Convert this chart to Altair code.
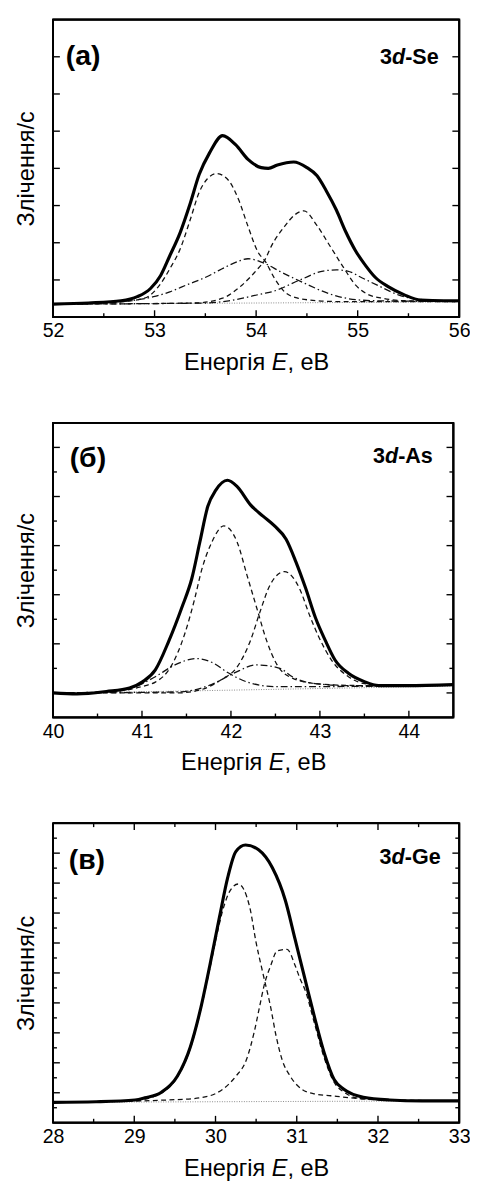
import altair as alt
import pandas as pd

FONT = "Liberation Sans"

# ---------------- Panel (а): 3d-Se ----------------
se_total_E = [52.00, 52.35, 52.67, 52.83, 52.96, 53.06, 53.15, 53.25, 53.35, 53.44, 53.54, 53.67,
              53.80, 53.92, 54.05, 54.12, 54.21, 54.37, 54.50, 54.60, 54.69, 54.79, 54.88, 54.98,
              55.08, 55.17, 55.30, 55.46, 55.62, 55.85, 56.00]
se_total_v = [0.35, 0.38, 0.44, 0.55, 0.77, 1.12, 1.65, 2.26, 3.05, 3.84, 4.41, 4.88,
              4.63, 4.24, 4.02, 4.00, 4.09, 4.17, 4.02, 3.80, 3.40, 2.88, 2.31, 1.78,
              1.38, 1.08, 0.82, 0.60, 0.46, 0.44, 0.44]
se_d1_E = [52.00, 52.60, 52.90, 53.06, 53.15, 53.25, 53.35, 53.44, 53.52, 53.61, 53.73, 53.83,
           53.92, 54.02, 54.09, 54.18, 54.28, 54.41, 54.53, 54.80, 56.00]
se_d1_v = [0.35, 0.40, 0.51, 0.90, 1.30, 1.82, 2.61, 3.36, 3.72, 3.86, 3.67, 3.14,
           2.44, 1.74, 1.50, 1.05, 0.68, 0.51, 0.46, 0.42, 0.42]
se_d2_E = [52.00, 53.40, 53.67, 53.86, 54.00, 54.09, 54.15, 54.28, 54.38, 54.47, 54.60, 54.73,
           54.85, 54.98, 55.11, 55.24, 55.50, 56.00]
se_d2_v = [0.35, 0.38, 0.51, 0.86, 1.25, 1.56, 1.91, 2.44, 2.75, 2.86, 2.46, 1.90,
           1.38, 0.86, 0.60, 0.51, 0.44, 0.43]
se_dd1_E = [52.00, 52.40, 52.73, 52.99, 53.15, 53.31, 53.54, 53.63, 53.78, 53.92, 54.08, 54.24,
            54.47, 54.73, 54.98, 55.20, 56.00]
se_dd1_v = [0.35, 0.38, 0.43, 0.55, 0.68, 0.86, 1.12, 1.25, 1.45, 1.57, 1.45, 1.22,
            0.92, 0.62, 0.47, 0.44, 0.42]
se_dd2_E = [52.00, 53.50, 53.73, 54.08, 54.15, 54.44, 54.66, 54.79, 54.90, 55.04, 55.20, 55.40,
            55.60, 56.00]
se_dd2_v = [0.35, 0.38, 0.44, 0.64, 0.68, 1.01, 1.24, 1.27, 1.24, 1.06, 0.85, 0.60,
            0.48, 0.43]
se_bg_E = [52.0, 56.0]
se_bg_v = [0.35, 0.41]
se_xlabels = [52, 53, 54, 55, 56]
se_xmajor = [53, 54, 55]
se_xminor = [52.5, 53.5, 54.5, 55.5]
se_ymajor = [1, 2, 3, 4, 5, 6, 7]
se_yminor = []

# ---------------- Panel (б): 3d-As ----------------
as_total_E = [40.00, 40.27, 40.60, 40.86, 41.01, 41.15, 41.30, 41.45, 41.56, 41.65, 41.74, 41.83,
              41.96, 42.07, 42.22, 42.36, 42.49, 42.62, 42.73, 42.84, 42.95, 43.06, 43.17, 43.32,
              43.50, 43.66, 43.98, 44.50]
as_total_v = [0.50, 0.48, 0.53, 0.60, 0.73, 0.97, 1.55, 2.25, 2.83, 3.57, 4.30, 4.63,
              4.83, 4.70, 4.33, 4.10, 3.90, 3.63, 3.17, 2.63, 2.03, 1.57, 1.17, 0.90,
              0.73, 0.65, 0.65, 0.67]
as_d1_E = [40.00, 40.60, 41.04, 41.15, 41.33, 41.48, 41.59, 41.67, 41.78, 41.92, 42.07, 42.18,
           42.29, 42.40, 42.51, 42.69, 42.95, 43.48, 44.50]
as_d1_v = [0.50, 0.52, 0.65, 0.72, 1.05, 1.70, 2.40, 3.00, 3.55, 3.90, 3.57, 2.90,
           2.23, 1.57, 1.10, 0.80, 0.69, 0.65, 0.66]
as_d2_E = [40.00, 41.40, 41.67, 41.89, 42.07, 42.22, 42.33, 42.44, 42.60, 42.77, 42.88, 42.99,
           43.13, 43.32, 43.50, 43.80, 44.50]
as_d2_v = [0.50, 0.50, 0.57, 0.77, 1.03, 1.57, 2.17, 2.70, 2.97, 2.63, 2.10, 1.63,
           1.17, 0.83, 0.69, 0.65, 0.66]
as_dd1_E = [40.00, 40.70, 40.93, 41.15, 41.37, 41.61, 41.81, 41.95, 42.22, 42.50, 43.00, 44.50]
as_dd1_v = [0.50, 0.53, 0.63, 0.83, 1.07, 1.20, 1.10, 0.93, 0.70, 0.63, 0.63, 0.66]
as_dd2_E = [40.00, 41.40, 41.78, 42.03, 42.29, 42.55, 42.69, 42.91, 43.30, 44.50]
as_dd2_v = [0.50, 0.52, 0.67, 0.90, 1.07, 1.00, 0.83, 0.70, 0.65, 0.66]
as_bg_E = [40.0, 44.5]
as_bg_v = [0.49, 0.64]
as_xlabels = [40, 41, 42, 43, 44]
as_xmajor = [41, 42, 43, 44]
as_xminor = [40.5, 41.5, 42.5, 43.5]
as_ymajor = [0.5, 1.5, 2.5, 3.5, 4.5, 5.5]
as_yminor = [1, 2, 3, 4, 5]

# ---------------- Panel (в): 3d-Ge ----------------
ge_total_E = [28.00, 28.53, 29.01, 29.13, 29.33, 29.53, 29.69, 29.81, 29.93, 30.05, 30.15, 30.25,
              30.37, 30.53, 30.70, 30.86, 30.98, 31.10, 31.22, 31.34, 31.46, 31.58, 31.82, 32.14,
              32.54, 33.00]
ge_total_v = [0.68, 0.70, 0.76, 0.83, 1.01, 1.55, 2.53, 3.73, 5.25, 6.88, 8.18, 9.05,
              9.27, 9.11, 8.51, 7.42, 6.12, 4.81, 3.51, 2.31, 1.44, 1.12, 0.85, 0.76,
              0.73, 0.73]
ge_d1_E = [28.00, 29.00, 29.33, 29.53, 29.69, 29.81, 29.93, 30.03, 30.09, 30.18, 30.28, 30.42,
           30.50, 30.58, 30.68, 30.74, 30.82, 30.92, 31.06, 31.22, 31.42, 31.80, 32.20, 33.00]
ge_d1_v = [0.68, 0.74, 0.99, 1.52, 2.48, 3.68, 5.15, 6.44, 7.10, 7.75, 7.97, 7.21,
           6.01, 5.03, 3.84, 2.97, 2.10, 1.55, 1.12, 0.96, 0.90, 0.80, 0.76, 0.73]
ge_d2_E = [28.00, 29.60, 29.93, 30.09, 30.25, 30.38, 30.48, 30.54, 30.60, 30.68, 30.76, 30.88,
           30.98, 31.04, 31.10, 31.22, 31.34, 31.46, 31.58, 31.80, 32.20, 33.00]
ge_d2_v = [0.68, 0.78, 0.90, 1.12, 1.55, 2.10, 3.07, 3.84, 4.60, 5.25, 5.74, 5.79,
           5.25, 4.81, 4.45, 3.30, 2.15, 1.35, 1.02, 0.80, 0.75, 0.73]
ge_bg_E = [28.0, 33.0]
ge_bg_v = [0.68, 0.73]
ge_xlabels = [28, 29, 30, 31, 32, 33]
ge_xmajor = [29, 30, 31, 32]
ge_xminor = [28.5, 29.5, 30.5, 31.5, 32.5]
ge_ymajor = [1, 2, 3, 4, 5, 6, 7, 8, 9]
ge_yminor = [0.5, 1.5, 2.5, 3.5, 4.5, 5.5, 6.5, 7.5, 8.5, 9.5]

Y_TITLE = "Злічення/с"
X_TITLE_LEFT = "Енергія"
X_TITLE_IT = "E"
X_TITLE_RIGHT = ", eВ"

DASH = [5, 3.5]
DASHDOT = [7, 3, 1.5, 3]


def make_panel(curves, bg, xdom, ydom, xlabels, xmaj, xmin_, ymaj, ymin_,
               W, H, letter, elem, letter_pos, elem_pos, top_ticks):
    rows = []
    for name, (Es, vs) in curves.items():
        for e, v in zip(Es, vs):
            rows.append({"s": name, "E": e, "v": v})
    for e, v in zip(*bg):
        rows.append({"s": "bg", "E": e, "v": v})
    for t in xmaj:
        rows.append({"s": "xmaj", "E": t, "v": None})
    for t in xmin_:
        rows.append({"s": "xmin", "E": t, "v": None})
    for t in ymaj:
        rows.append({"s": "ymaj", "E": None, "v": t})
    for t in ymin_:
        rows.append({"s": "ymin", "E": None, "v": t})
    for t in xdom:
        rows.append({"s": "xedge", "E": t, "v": None})
    for t in ydom:
        rows.append({"s": "yedge", "E": None, "v": t})
    df = pd.DataFrame(rows)

    X = alt.X("E:Q", scale=alt.Scale(domain=xdom, nice=False, zero=False),
              axis=alt.Axis(values=xlabels, ticks=False, domain=False, grid=False,
                            labelFont=FONT, labelFontSize=20, labelColor="black",
                            labelPadding=4, labelFlush=False, labelBound=False,
                            labelOverlap=False, title=None, format="d"))
    Y = alt.Y("v:Q", scale=alt.Scale(domain=ydom, nice=False, zero=False),
              axis=alt.Axis(labels=False, ticks=False, domain=False, grid=False,
                            title=Y_TITLE, titleFont=FONT, titleFontSize=24,
                            titleFontWeight="normal", titleColor="black",
                            titlePadding=15))

    base = alt.Chart(df)

    def f(name):
        return base.transform_filter(alt.datum.s == name)

    one = alt.Chart(pd.DataFrame({"k": [0]}))
    layers = []
    layers.append(f("bg").mark_line(color="#888888", strokeWidth=1, strokeDash=[1, 1.5])
                  .encode(x=X, y=Y))
    for name in curves:
        if name.startswith("dd"):
            layers.append(f(name).mark_line(color="#111111", strokeWidth=1.3,
                                            strokeDash=DASHDOT, interpolate="monotone")
                          .encode(x=X, y=Y))
        elif name.startswith("d"):
            layers.append(f(name).mark_line(color="#111111", strokeWidth=1.3,
                                            strokeDash=DASH, interpolate="monotone")
                          .encode(x=X, y=Y))
    layers.append(f("total").mark_line(color="#000000", strokeWidth=3.2,
                                       interpolate="monotone").encode(x=X, y=Y))

    # plot frame at the edges of the scale domains
    FR = dict(color="#000000", strokeWidth=1.8, opacity=1)
    layers.append(f("xedge").mark_rule(**FR).encode(x=X, y=alt.value(0), y2=alt.value(H)))
    layers.append(f("yedge").mark_rule(**FR).encode(y=Y, x=alt.value(0), x2=alt.value(W)))
    layers.append(f("xedge").mark_tick(color="#000000", thickness=1.8, size=H, opacity=1,
                                       orient="vertical")
                  .encode(x=X, y=alt.value(H / 2)))
    layers.append(f("yedge").mark_tick(color="#000000", thickness=1.8, size=W, opacity=1,
                                       orient="horizontal")
                  .encode(y=Y, x=alt.value(W / 2)))

    TK = dict(color="black", strokeWidth=1.4)
    layers.append(f("xmaj").mark_rule(**TK).encode(x=X, y=alt.value(H), y2=alt.value(H - 7)))
    layers.append(f("xmin").mark_rule(**TK).encode(x=X, y=alt.value(H), y2=alt.value(H - 4)))
    if top_ticks:
        layers.append(f("xmaj").mark_rule(**TK).encode(x=X, y=alt.value(0), y2=alt.value(7)))
        layers.append(f("xmin").mark_rule(**TK).encode(x=X, y=alt.value(0), y2=alt.value(4)))
    layers.append(f("ymaj").mark_rule(**TK).encode(y=Y, x=alt.value(0), x2=alt.value(7)))
    layers.append(f("ymaj").mark_rule(**TK).encode(y=Y, x=alt.value(W), x2=alt.value(W - 7)))
    if ymin_:
        layers.append(f("ymin").mark_rule(**TK).encode(y=Y, x=alt.value(0), x2=alt.value(4)))
        layers.append(f("ymin").mark_rule(**TK).encode(y=Y, x=alt.value(W), x2=alt.value(W - 4)))

    layers.append(one.mark_text(text=letter, font=FONT, fontSize=29, fontWeight="bold",
                                align="left", baseline="alphabetic", color="black")
                  .encode(x=alt.value(letter_pos[0]), y=alt.value(letter_pos[1])))
    fs = 22
    xr, yb = elem_pos
    rest_w = {"-Se": 1.556, "-As": 1.611, "-Ge": 1.667}[elem] * fs
    d_w = 0.611 * fs
    layers.append(one.mark_text(text=elem, font=FONT, fontSize=fs, fontWeight="bold",
                                align="right", baseline="alphabetic", color="black")
                  .encode(x=alt.value(xr), y=alt.value(yb)))
    layers.append(one.mark_text(text="d", font=FONT, fontSize=fs, fontWeight="bold",
                                fontStyle="italic", align="right", baseline="alphabetic",
                                color="black")
                  .encode(x=alt.value(xr - rest_w), y=alt.value(yb)))
    layers.append(one.mark_text(text="3", font=FONT, fontSize=fs, fontWeight="bold",
                                align="right", baseline="alphabetic", color="black")
                  .encode(x=alt.value(xr - rest_w - d_w), y=alt.value(yb)))
    tfs = 24
    xE = W / 2 + 16
    ty = H + 54
    layers.append(one.mark_text(text=X_TITLE_LEFT, font=FONT, fontSize=tfs, align="right",
                                baseline="alphabetic", color="black")
                  .encode(x=alt.value(xE - 0.278 * tfs), y=alt.value(ty)))
    layers.append(one.mark_text(text=X_TITLE_IT, font=FONT, fontSize=tfs, fontStyle="italic",
                                align="left", baseline="alphabetic", color="black")
                  .encode(x=alt.value(xE), y=alt.value(ty)))
    layers.append(one.mark_text(text=X_TITLE_RIGHT, font=FONT, fontSize=tfs, align="left",
                                baseline="alphabetic", color="black")
                  .encode(x=alt.value(xE + 0.667 * tfs), y=alt.value(ty)))

    return alt.layer(*layers).properties(width=W, height=H)


pa = make_panel({"total": (se_total_E, se_total_v), "d1": (se_d1_E, se_d1_v),
                 "d2": (se_d2_E, se_d2_v), "dd1": (se_dd1_E, se_dd1_v),
                 "dd2": (se_dd2_E, se_dd2_v)},
                (se_bg_E, se_bg_v), [52, 56], [0, 8], se_xlabels, se_xmajor, se_xminor,
                se_ymajor, se_yminor, 415, 304, "(а)", "-Se", (13, 46), (394, 45), False)
pb = make_panel({"total": (as_total_E, as_total_v), "d1": (as_d1_E, as_d1_v),
                 "d2": (as_d2_E, as_d2_v), "dd1": (as_dd1_E, as_dd1_v),
                 "dd2": (as_dd2_E, as_dd2_v)},
                (as_bg_E, as_bg_v), [40, 44.5], [0, 6], as_xlabels, as_xmajor, as_xminor,
                as_ymajor, as_yminor, 409, 301, "(б)", "-As", (17, 45), (388, 41), False)
pc = make_panel({"total": (ge_total_E, ge_total_v), "d1": (ge_d1_E, ge_d1_v),
                 "d2": (ge_d2_E, ge_d2_v)},
                (ge_bg_E, ge_bg_v), [28, 33], [0, 10], ge_xlabels, ge_xmajor, ge_xminor,
                ge_ymajor, ge_yminor, 415, 306, "(в)", "-Ge", (16, 47), (396, 42), True)

chart = (alt.vconcat(pa, pb, pc, spacing=108, bounds="flush")
         .properties(padding={"left": 6, "top": -3, "right": -2, "bottom": 0},
                     background="white")
         .configure_view(stroke="#000000", strokeWidth=2))

chart.save("out.html", embed_options={"renderer": "svg", "actions": False})
